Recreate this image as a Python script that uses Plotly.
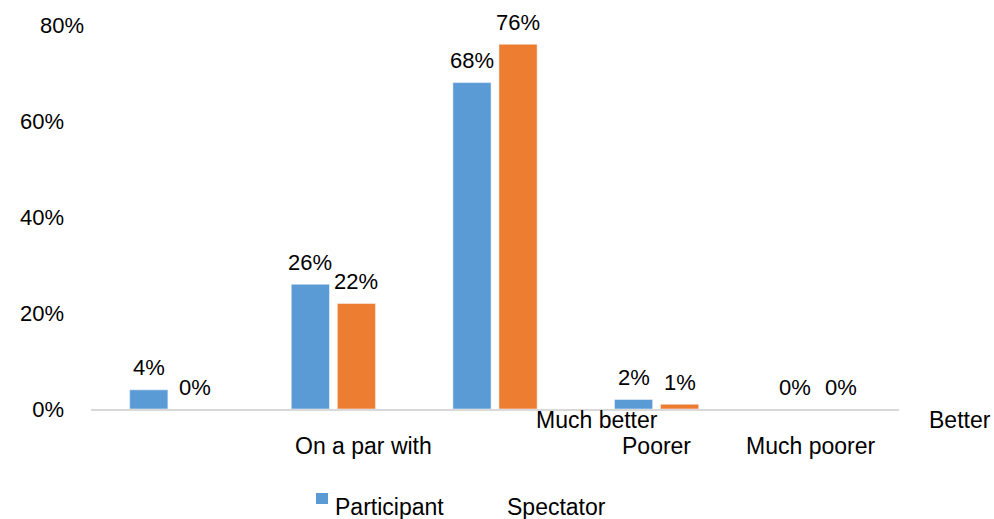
import plotly.graph_objects as go

categories = ["Much better", "Better", "On a par with", "Poorer", "Much poorer"]
participant = [4, 26, 68, 2, 0]
spectator = [0, 22, 76, 1, 0]
y_ticks = [0, 20, 40, 60, 80]

BLUE = "#5B9BD5"
ORANGE = "#ED7D31"
FONT = "Liberation Sans, Arial, sans-serif"

# plot area in pixels (left, right, top, bottom)
L, R, T, B = 91, 899, 25, 409
W, H = 994, 519


def px(x):
    return (x - L) / (R - L)


def py(y):
    return (B - y) / (B - T)


fig = go.Figure()
fig.add_trace(go.Bar(x=categories, y=participant, name="Participant", marker_color=BLUE))
fig.add_trace(go.Bar(x=categories, y=spectator, name="Spectator", marker_color=ORANGE))

annotations = []
for vals, shift in ((participant, -23), (spectator, 23)):
    for c, v in zip(categories, vals):
        annotations.append(dict(
            x=c, y=v, xref="x", yref="y", text=f"{v}%", showarrow=False,
            xshift=shift, yshift=22, yanchor="middle", xanchor="center",
            font={"size": 22, "color": "#000000", "family": FONT},
        ))

# category labels, placed as in the original (offset from the groups)
label_pos = [(597, 420), (960, 420), (363, 446), (656, 446), (810, 446)]
for c, (lx, ly) in zip(categories, label_pos):
    annotations.append(dict(
        x=px(lx), y=py(ly), xref="paper", yref="paper", text=c, showarrow=False,
        xanchor="center", yanchor="middle",
        font={"size": 23, "color": "#000000", "family": FONT},
    ))

# top tick label sits further right in the original
annotations.append(dict(
    x=px(62), y=y_ticks[-1], xref="paper", yref="y", text=f"{y_ticks[-1]}%",
    showarrow=False, xanchor="center", yanchor="middle",
    font={"size": 22, "color": "#000000", "family": FONT},
))

# legend
for name, lx in (("Participant", 333), ("Spectator", 505)):
    annotations.append(dict(
        x=px(lx), y=py(507), xref="paper", yref="paper", text=name, showarrow=False,
        xanchor="left", yanchor="middle",
        font={"size": 23, "color": "#000000", "family": FONT},
    ))

fig.add_shape(
    type="rect", xref="paper", yref="paper",
    x0=px(316), x1=px(328), y0=py(504), y1=py(493),
    fillcolor=BLUE, line={"width": 0}, opacity=1,
)

fig.update_layout(
    width=W,
    height=H,
    template="simple_white",
    paper_bgcolor="white",
    plot_bgcolor="white",
    barmode="group",
    bargap=0.43,
    bargroupgap=0.17,
    showlegend=False,
    annotations=annotations,
    margin={"l": L, "r": W - R, "t": T, "b": H - B, "pad": 0},
    font={"family": FONT, "size": 22, "color": "#000000"},
)
fig.update_xaxes(
    showticklabels=False, ticks="", showline=True, linecolor="#D9D9D9",
    linewidth=2, showgrid=False, zeroline=False,
)
fig.update_yaxes(
    range=[0, 80], tickvals=y_ticks[:-1], ticktext=[f"{t}%" for t in y_ticks[:-1]],
    ticks="", showline=False, showgrid=False, zeroline=False,
    ticklabelstandoff=26, tickfont={"size": 22, "color": "#000000", "family": FONT},
)

fig.write_html(
    "out.html",
    config={"displayModeBar": False},
    post_script="document.body.style.margin='0';document.body.style.overflow='hidden';",
)
